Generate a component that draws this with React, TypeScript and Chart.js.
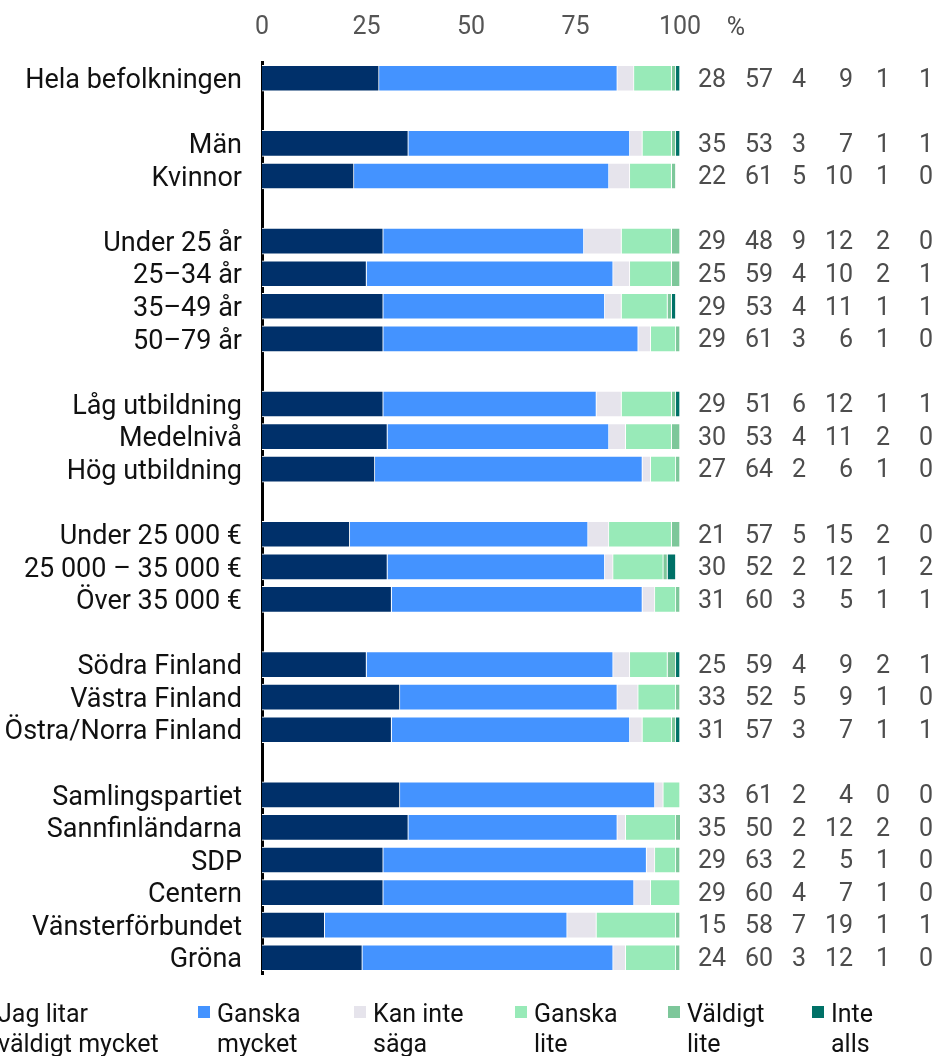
import React, { useEffect, useRef } from 'react';
import { Chart, registerables } from 'chart.js';

Chart.register(...registerables);

const categories = [
  'Hela befolkningen', '',
  'Män', 'Kvinnor', '',
  'Under 25 år', '25–34 år', '35–49 år', '50–79 år', '',
  'Låg utbildning', 'Medelnivå', 'Hög utbildning', '',
  'Under 25 000 €', '25 000 – 35 000 €', 'Över 35 000 €', '',
  'Södra Finland', 'Västra Finland', 'Östra/Norra Finland', '',
  'Samlingspartiet', 'Sannfinländarna', 'SDP', 'Centern', 'Vänsterförbundet', 'Gröna',
];

const litarVaeldigtMycket = [28, null, 35, 22, null, 29, 25, 29, 29, null, 29, 30, 27, null, 21, 30, 31, null, 25, 33, 31, null, 33, 35, 29, 29, 15, 24];
const ganskaMycket = [57, null, 53, 61, null, 48, 59, 53, 61, null, 51, 53, 64, null, 57, 52, 60, null, 59, 52, 57, null, 61, 50, 63, 60, 58, 60];
const kanInteSaega = [4, null, 3, 5, null, 9, 4, 4, 3, null, 6, 4, 2, null, 5, 2, 3, null, 4, 5, 3, null, 2, 2, 2, 4, 7, 3];
const ganskaLite = [9, null, 7, 10, null, 12, 10, 11, 6, null, 12, 11, 6, null, 15, 12, 5, null, 9, 9, 7, null, 4, 12, 5, 7, 19, 12];
const vaeldigtLite = [1, null, 1, 1, null, 2, 2, 1, 1, null, 1, 2, 1, null, 2, 1, 1, null, 2, 1, 1, null, 0, 2, 1, 1, 1, 1];
const inteAlls = [1, null, 1, 0, null, 0, 1, 1, 0, null, 1, 0, 0, null, 0, 2, 1, null, 1, 0, 1, null, 0, 0, 0, 0, 1, 0];

const seriesLabels = [
  ['Jag litar', 'väldigt mycket'],
  ['Ganska', 'mycket'],
  ['Kan inte', 'säga'],
  ['Ganska', 'lite'],
  ['Väldigt', 'lite'],
  ['Inte', 'alls'],
];
const seriesColors = ['#00306a', '#4493ff', '#e6e4ec', '#98eab8', '#7dc79a', '#007167'];
const seriesValues = [litarVaeldigtMycket, ganskaMycket, kanInteSaega, ganskaLite, vaeldigtLite, inteAlls];

const xTickStep = 25;
const xMin = 0;
const xMax = 100;
const unitLabel = '%';

const FONT = 'Roboto';

export default function App() {
  const ref = useRef<HTMLCanvasElement | null>(null);

  useEffect(() => {
    if (!ref.current) return;

    const colX = [712, 759, 799, 853, 883, 926];
    const colAlign: CanvasTextAlign[] = ['center', 'center', 'center', 'right', 'center', 'center'];
    const legendX = [-21, 198, 354, 515, 668, 812];

    const extras = {
      id: 'extras',
      afterDraw(chart: any) {
        const ctx = chart.ctx as CanvasRenderingContext2D;
        const ys = chart.scales.y;
        const xs = chart.scales.x;
        ctx.save();
        // value columns
        ctx.font = `25px ${FONT}`;
        ctx.fillStyle = '#4d4d4d';
        ctx.textBaseline = 'middle';
        categories.forEach((c, i) => {
          if (!c) return;
          const y = ys.getPixelForValue(i);
          seriesValues.forEach((arr, k) => {
            const v = arr[i];
            if (v === null || v === undefined) return;
            ctx.textAlign = colAlign[k];
            ctx.fillText(String(v), colX[k], y + 2);
          });
        });
        // unit label
        ctx.textAlign = 'center';
        ctx.fillText(unitLabel, xs.getPixelForValue(xMax) + 56, 28.6);
        // legend
        ctx.font = `25px ${FONT}`;
        seriesLabels.forEach((lines, k) => {
          const bx = legendX[k];
          ctx.fillStyle = seriesColors[k];
          ctx.fillRect(bx, 1006, 12, 12);
          ctx.fillStyle = '#111';
          ctx.textAlign = 'left';
          ctx.textBaseline = 'alphabetic';
          lines.forEach((ln, j) => {
            ctx.fillText(ln, bx + 19, 1022 + j * 30);
          });
        });
        ctx.restore();
      },
    };

    const chart = new Chart(ref.current, {
      type: 'bar',
      data: {
        labels: categories,
        datasets: seriesValues.map((arr, k) => ({
          label: seriesLabels[k].join(' '),
          data: arr,
          backgroundColor: seriesColors[k],
          borderColor: '#ffffff',
          borderWidth: 1,
          borderSkipped: 'start',
          barThickness: 26,
        })),
      },
      options: {
        responsive: false,
        animation: false,
        indexAxis: 'y',
        layout: { padding: { left: 0, top: 0, right: 255, bottom: 82 } },
        plugins: {
          legend: { display: false },
          tooltip: { enabled: false },
        },
        scales: {
          x: {
            position: 'top',
            stacked: true,
            min: xMin,
            max: xMax,
            ticks: { stepSize: xTickStep, font: { family: FONT, size: 25 }, color: '#555', padding: 19 },
            grid: { display: false, drawTicks: false },
            border: { display: false },
            afterFit: (s: any) => { s.height = 62; },
          },
          y: {
            stacked: true,
            z: 1,
            ticks: { font: { family: FONT, size: 27 }, color: '#111', padding: 20, autoSkip: false, labelOffset: 3 },
            grid: { display: false, drawTicks: false },
            border: { display: true, color: '#000', width: 3 },
            afterFit: (s: any) => { s.width = 262; },
          },
        },
      },
      plugins: [extras],
    } as any);

    return () => chart.destroy();
  }, []);

  return (
    <div style={{ position: 'absolute', left: 0, top: 0, width: 935, height: 1056, background: '#fff' }}>
      <canvas ref={ref} width={935} height={1056} style={{ display: 'block', width: 935, height: 1056 }} />
    </div>
  );
}
